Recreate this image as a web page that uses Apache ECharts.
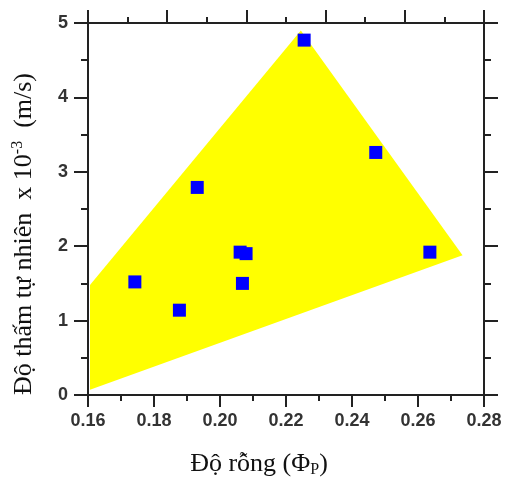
<!DOCTYPE html>
<html>
<head>
<meta charset="utf-8">
<script src="https://cdn.jsdelivr.net/npm/echarts@6/dist/echarts.min.js"></script>
<style>
  html, body { margin: 0; padding: 0; background: #fff; }
  #chart { width: 508px; height: 477px; }
</style>
</head>
<body>
<div id="chart"></div>
<script>
// measured points (porosity, permeability x 10^-3)
var porosity = [0.2255, 0.2472, 0.1931, 0.1742, 0.1877, 0.2061, 0.2079, 0.2068, 0.2636];
var permeability = [4.77, 3.26, 2.79, 1.52, 1.14, 1.92, 1.90, 1.50, 1.92];

// yellow envelope corners
var hullX = [0.1606, 0.1606, 0.2245, 0.2735];
var hullY = [0.07, 1.48, 4.90, 1.88];

var xTicks = ['0.16', '0.18', '0.20', '0.22', '0.24', '0.26', '0.28'];
var yTicks = ['0', '1', '2', '3', '4', '5'];

var chartDom = document.getElementById('chart');
var myChart = echarts.init(chartDom);
var option;

var lineStyle = { color: '#222', width: 2 };
var tickLabel = {
  fontFamily: 'Liberation Sans',
  fontWeight: 'bold',
  fontSize: 18,
  color: '#333'
};

option = {
  animation: false,
  backgroundColor: '#fff',
  grid: {
    left: 88,
    right: 24,
    top: 23,
    bottom: 82,
    outerBoundsMode: 'none'
  },
  xAxis: [
    {
      type: 'value',
      min: 0.16,
      max: 0.28,
      interval: 0.02,
      position: 'bottom',
      name: 'Độ rỗng (Φ{sub|P})',
      nameLocation: 'middle',
      nameGap: 56,
      nameTextStyle: {
        fontFamily: 'Liberation Serif',
        fontSize: 26,
        color: '#111',
        padding: [0, 54, 0, 0],
        rich: {
          sub: { fontFamily: 'Liberation Serif', fontSize: 16, color: '#111', padding: [11, 0, 0, 0] }
        }
      },
      axisLine: { show: true, onZero: false, lineStyle: lineStyle },
      axisTick: { show: true, inside: false, length: 12, lineStyle: lineStyle },
      minorTick: { show: true, splitNumber: 2, length: 6, lineStyle: lineStyle },
      splitLine: { show: false },
      axisLabel: Object.assign({
        margin: 17,
        formatter: function (v) {
          var i = Math.round((v - 0.16) / 0.02);
          return xTicks[i] || '';
        }
      }, tickLabel)
    },
    {
      // top frame, its ticks do not line up with the bottom scale
      type: 'value',
      min: 0,
      max: 5,
      interval: 1,
      position: 'top',
      axisLine: { show: true, onZero: false, lineStyle: lineStyle },
      axisTick: { show: true, inside: false, length: 13, lineStyle: lineStyle },
      minorTick: { show: true, splitNumber: 2, length: 6, lineStyle: lineStyle },
      splitLine: { show: false },
      axisLabel: { show: false }
    }
  ],
  yAxis: [
    {
      type: 'value',
      min: 0,
      max: 5,
      interval: 1,
      position: 'left',
      name: 'Độ thấm tự nhiên  x 10{sup|-3}  (m/s)',
      nameLocation: 'middle',
      nameGap: 49,
      nameTextStyle: {
        fontFamily: 'Liberation Serif',
        fontSize: 26,
        color: '#111',
        padding: [0, 50, 0, 0],
        rich: {
          sup: { fontFamily: 'Liberation Serif', fontSize: 16, color: '#111', padding: [0, 0, 13, 0] }
        }
      },
      axisLine: { show: true, onZero: false, lineStyle: lineStyle },
      axisTick: { show: true, inside: false, length: 14, lineStyle: lineStyle },
      minorTick: { show: true, splitNumber: 2, length: 7, lineStyle: lineStyle },
      splitLine: { show: false },
      axisLabel: Object.assign({
        margin: 20,
        formatter: function (v) {
          return yTicks[Math.round(v)] || '';
        }
      }, tickLabel)
    },
    {
      type: 'value',
      min: 0,
      max: 5,
      interval: 1,
      position: 'right',
      axisLine: { show: true, onZero: false, lineStyle: lineStyle },
      axisTick: { show: true, inside: false, length: 14, lineStyle: lineStyle },
      minorTick: { show: true, splitNumber: 2, length: 7, lineStyle: lineStyle },
      splitLine: { show: false },
      axisLabel: { show: false }
    }
  ],
  series: [
    {
      type: 'custom',
      xAxisIndex: 0,
      yAxisIndex: 0,
      silent: true,
      z: 1,
      data: hullX.map(function (x, i) { return [x, hullY[i]]; }),
      renderItem: function (params, api) {
        if (params.dataIndex !== 0) return null;
        var pts = hullX.map(function (x, i) { return api.coord([x, hullY[i]]); });
        return {
          type: 'polygon',
          shape: { points: pts },
          style: { fill: '#ffff00', stroke: null }
        };
      }
    },
    {
      type: 'scatter',
      xAxisIndex: 0,
      yAxisIndex: 0,
      z: 3,
      symbol: 'rect',
      symbolSize: 13,
      itemStyle: { color: '#0000ff', opacity: 1 },
      data: porosity.map(function (x, i) { return [x, permeability[i]]; })
    }
  ]
};

option && myChart.setOption(option);
</script>
</body>
</html>
